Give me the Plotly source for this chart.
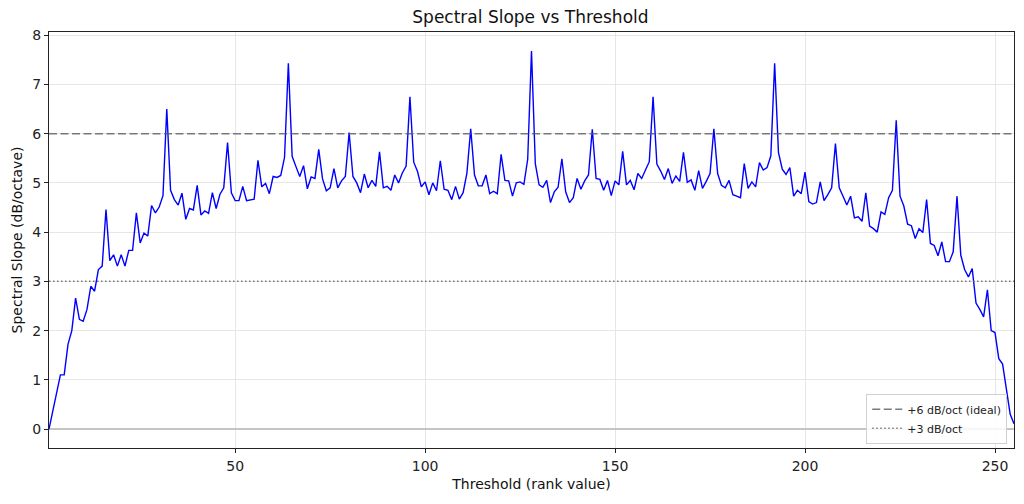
import plotly.graph_objects as go

thresholds = list(range(1, 256))
slopes = [
    0.00, 0.36, 0.73, 1.10, 1.10, 1.72, 2.00, 2.66, 2.23, 2.19,
    2.43, 2.90, 2.80, 3.24, 3.31, 4.46, 3.42, 3.54, 3.31, 3.54,
    3.31, 3.63, 3.63, 4.39, 3.78, 3.98, 3.92, 4.54, 4.39, 4.51,
    4.74, 6.50, 4.85, 4.66, 4.55, 4.79, 4.26, 4.48, 4.45, 4.95,
    4.35, 4.43, 4.38, 4.80, 4.48, 4.77, 4.90, 5.82, 4.80, 4.64,
    4.64, 4.93, 4.64, 4.65, 4.67, 5.46, 4.92, 4.99, 4.78, 5.13,
    5.11, 5.15, 5.52, 7.43, 5.54, 5.33, 5.13, 5.35, 4.88, 5.12,
    5.09, 5.68, 5.08, 4.84, 4.90, 5.29, 4.90, 5.04, 5.13, 6.02,
    5.13, 5.00, 4.80, 5.18, 4.90, 5.05, 4.93, 5.63, 4.90, 4.93,
    4.85, 5.16, 5.00, 5.20, 5.34, 6.75, 5.42, 5.23, 4.92, 5.02,
    4.76, 5.00, 4.84, 5.45, 4.87, 4.85, 4.66, 4.93, 4.67, 4.80,
    5.20, 6.10, 5.16, 4.94, 4.94, 5.16, 4.78, 4.83, 4.78, 5.58,
    5.05, 5.04, 4.73, 5.00, 5.02, 4.97, 5.48, 7.68, 5.39, 4.96,
    4.91, 5.05, 4.60, 4.82, 4.91, 5.49, 4.82, 4.60, 4.70, 5.09,
    4.87, 5.04, 5.16, 6.09, 5.09, 5.07, 4.85, 5.05, 4.74, 5.04,
    4.96, 5.64, 4.96, 5.05, 4.86, 5.19, 5.09, 5.26, 5.43, 6.75,
    5.38, 5.24, 5.07, 5.29, 4.99, 5.14, 5.03, 5.62, 5.01, 5.06,
    4.85, 5.25, 4.89, 5.03, 5.19, 6.10, 5.19, 4.95, 4.90, 5.05,
    4.76, 4.73, 4.70, 5.39, 4.89, 5.02, 4.92, 5.41, 5.26, 5.31,
    5.55, 7.43, 5.62, 5.28, 5.17, 5.31, 4.73, 4.85, 4.78, 5.22,
    4.62, 4.57, 4.60, 5.02, 4.64, 4.76, 4.90, 5.80, 4.90, 4.73,
    4.55, 4.73, 4.29, 4.31, 4.22, 4.80, 4.12, 4.07, 4.00, 4.41,
    4.36, 4.70, 4.85, 6.27, 4.73, 4.53, 4.16, 4.13, 3.87, 4.07,
    3.99, 4.66, 3.77, 3.73, 3.52, 3.80, 3.40, 3.40, 3.60, 4.73,
    3.53, 3.24, 3.09, 3.26, 2.56, 2.43, 2.28, 2.83, 2.00, 1.96,
    1.43, 1.32, 0.84, 0.30, 0.11,
]
ref_levels = [6, 3]
ref_labels = ["+6 dB/oct (ideal)", "+3 dB/oct"]
ref_dashes = ["8px,3.5px", "1.5px,2.5px"]
x_ticks = [50, 100, 150, 200, 250]
y_ticks = [0, 1, 2, 3, 4, 5, 6, 7, 8]

FONT = "DejaVu Sans"

fig = go.Figure()
fig.add_trace(go.Scatter(
    x=thresholds, y=slopes, mode="lines",
    line=dict(color="#0000ff", width=1.4),
    showlegend=False, hoverinfo="x+y",
))
for lvl, lab, dash in zip(ref_levels, ref_labels, ref_dashes):
    fig.add_trace(go.Scatter(
        x=[thresholds[0], thresholds[-1]], y=[lvl, lvl], mode="lines",
        line=dict(color="rgba(90,90,90,0.8)", width=1.5, dash=dash),
        name=lab,
    ))

axis_common = dict(
    showline=True, mirror=True, linecolor="#222222", linewidth=1,
    ticks="outside", ticklen=4, tickcolor="#222222", tickwidth=1,
    showgrid=True, gridcolor="#e6e6e6", gridwidth=0.8,
    tickfont=dict(family=FONT, size=14, color="#222222"),
    automargin=False,
)

fig.update_layout(
    width=1024, height=504,
    margin=dict(l=49, r=10, t=32, b=56),
    paper_bgcolor="white", plot_bgcolor="white",
    font=dict(family=FONT, color="#111111"),
    title=dict(text="Spectral Slope vs Threshold", x=0.518, xanchor="center",
               y=0.966, yanchor="middle",
               font=dict(family=FONT, size=17, color="#111111")),
    xaxis=dict(
        range=[1, 255], tickvals=x_ticks, zeroline=False,
        ticklabelstandoff=1,
        title=dict(text="Threshold (rank value)", standoff=6,
                   font=dict(family=FONT, size=14, color="#111111")),
        **axis_common,
    ),
    yaxis=dict(
        range=[-0.384, 8.064], tickvals=y_ticks,
        zeroline=True, zerolinecolor="#c4c4c4", zerolinewidth=1.6,
        title=dict(text="Spectral Slope (dB/octave)", standoff=6,
                   font=dict(family=FONT, size=14, color="#111111")),
        **axis_common,
    ),
    legend=dict(
        x=0.993, y=0.01, xanchor="right", yanchor="bottom",
        bgcolor="rgba(255,255,255,0.85)", bordercolor="#d0d0d0", borderwidth=1,
        font=dict(family=FONT, size=11, color="#222222"),
        itemwidth=30, tracegroupgap=0,
    ),
)

fig.write_html(
    "out.html",
    config={"displayModeBar": False},
    post_script="document.body.style.margin='0';document.body.style.overflow='hidden';",
)
